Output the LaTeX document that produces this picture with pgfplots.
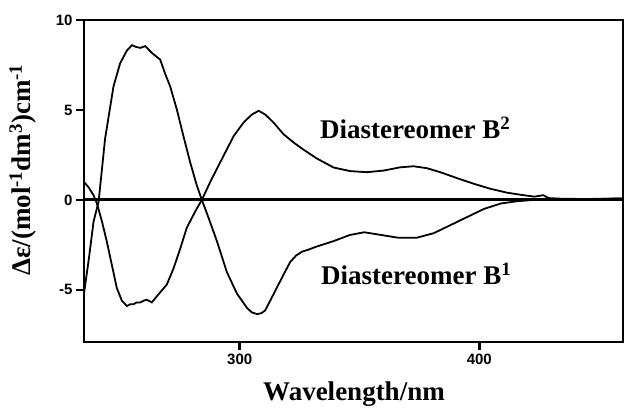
\documentclass[border=0pt]{standalone}
\usepackage{fontspec}
\setmainfont{Liberation Serif}
\newfontfamily\arialfont{Liberation Sans}
\usepackage{pgfplots}
\pgfplotsset{compat=1.18}
\usepackage{pgfplotstable}

\pgfplotstableread{
x y
235.0 -5.2
237.0 -3.3
239.0 -1.2
241.1 -0.1
243.8 3.4
247.3 6.3
250.1 7.6
252.9 8.3
255.0 8.6
256.8 8.5
258.5 8.45
260.6 8.55
262.0 8.35
263.5 8.15
266.8 7.8
268.9 7.0
271.0 6.3
273.8 5.0
276.5 3.55
279.3 2.1
282.1 0.8
284.2 0.0
287.0 -1.0
290.5 -2.3
294.6 -4.0
298.8 -5.2
303.0 -6.0
305.0 -6.25
307.2 -6.35
309.0 -6.3
310.6 -6.15
314.1 -5.25
318.3 -4.15
321.1 -3.45
323.5 -3.1
326.0 -2.88
329.0 -2.75
332.0 -2.6
339.0 -2.3
346.0 -1.95
352.0 -1.8
359.0 -1.95
366.0 -2.1
374.0 -2.1
381.0 -1.85
388.0 -1.4
395.0 -0.95
402.0 -0.5
409.0 -0.2
416.0 -0.07
423.0 0.0
430.0 0.03
440.0 0.05
450.0 0.05
460.0 0.08
}\diaB

\pgfplotstableread{
x y
235.0 1.0
236.9 0.7
239.0 0.26
240.4 -0.2
242.5 -1.2
244.5 -2.3
246.6 -3.6
248.7 -4.9
250.8 -5.6
252.9 -5.9
254.3 -5.8
255.7 -5.8
257.0 -5.7
258.5 -5.7
260.0 -5.6
261.2 -5.55
263.3 -5.7
266.1 -5.25
269.6 -4.7
272.4 -3.8
275.2 -2.7
277.9 -1.55
281.4 -0.65
284.2 0.0
287.7 1.0
291.9 2.1
297.5 3.55
301.6 4.3
305.1 4.75
307.9 4.95
310.6 4.75
314.1 4.3
318.3 3.65
322.4 3.2
326.0 2.85
332.2 2.3
339.2 1.8
346.1 1.6
353.1 1.54
360.1 1.63
367.0 1.81
372.6 1.87
378.2 1.76
383.7 1.54
390.7 1.21
397.6 0.9
404.6 0.62
411.6 0.4
418.5 0.26
423.0 0.18
426.7 0.26
429.0 0.1
435.0 0.06
445.0 0.05
460.0 0.08
}\diaBtwo

\pgfplotstableread{
x y
235 0
460 0
}\zeroline

\begin{document}
\begin{tikzpicture}
\begin{axis}[
  scale only axis,
  width=539pt, height=322pt,
  xmin=235, xmax=460, ymin=-7.9, ymax=10,
  xtick={300,400}, ytick={-5,0,5,10},
  tick align=outside, tick pos=left,
  major tick length=8pt,
  every tick/.style={line width=2.5pt, black},
  axis line style={line width=2.8pt},
  /pgf/number format/assume math mode=true,
  tick label style={font=\arialfont\bfseries\fontsize{15}{15}\selectfont},
  clip=false,
]
\addplot[line width=3pt, black] table[x=x,y=y] {\zeroline};
\addplot[line width=1.8pt, black] table[x=x,y=y] {\diaB};
\addplot[line width=1.8pt, black] table[x=x,y=y] {\diaBtwo};
\end{axis}
\node[rotate=90, anchor=base, inner sep=0pt, font=\bfseries\fontsize{27}{27}\selectfont] at (-53pt,172pt) {Δε/(mol\textsuperscript{-1}dm\textsuperscript{3})cm\textsuperscript{-1}};
\node[anchor=base, inner sep=0pt, font=\bfseries\fontsize{27}{27}\selectfont] at (270pt,-59pt) {Wavelength/nm};
\node[anchor=base west, inner sep=0pt, font=\bfseries\fontsize{27}{27}\selectfont] at (236pt,203pt) {Diastereomer B\textsuperscript{2}};
\node[anchor=base west, inner sep=0pt, font=\bfseries\fontsize{27}{27}\selectfont] at (237pt,57pt) {Diastereomer B\textsuperscript{1}};
\pgfresetboundingbox
\path[use as bounding box] (-84pt,-67pt) rectangle (540pt,342pt);
\end{tikzpicture}
\end{document}
